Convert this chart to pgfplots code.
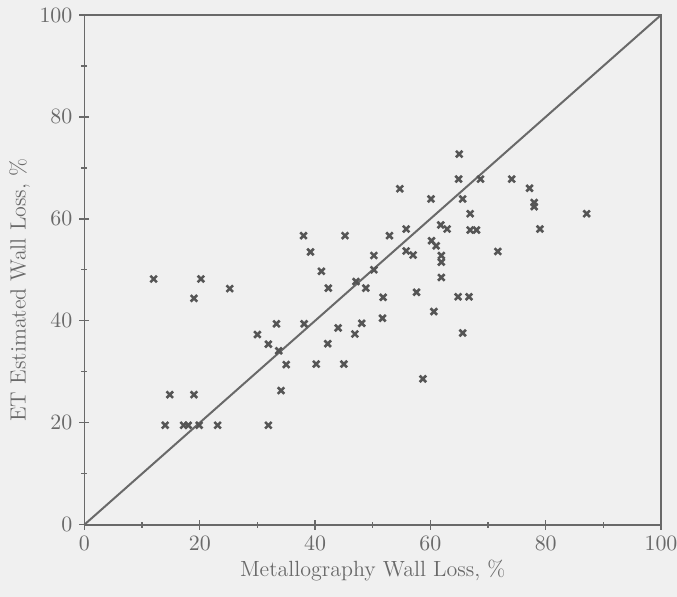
\documentclass[border=0pt]{standalone}
\usepackage{pgfplots}
\pgfplotsset{compat=1.18}
\usetikzlibrary{backgrounds}
\definecolor{bgc}{RGB}{240,240,240}
\definecolor{axc}{RGB}{105,105,105}
\definecolor{mkc}{RGB}{85,85,85}
\begin{document}
\begin{tikzpicture}
\begin{axis}[
  at={(0,0)}, anchor=south west,
  scale only axis, width=288.5pt, height=255pt,
  xmin=0, xmax=100, ymin=0, ymax=100,
  xtick={0,20,40,60,80,100}, ytick={0,20,40,60,80,100},
  minor xtick={10,30,50,70,90}, minor ytick={10,30,50,70,90},
  xtick pos=bottom, ytick pos=left,
  tick align=center,
  major tick length=5pt, minor tick length=3pt,
  axis line style={axc, line width=0.9pt},
  every tick/.style={axc, line width=0.7pt},
  ticklabel style={text=axc, font=\fontsize{10.5}{12}\selectfont},
  xlabel={Metallography Wall Loss, \%},
  ylabel={ET Estimated Wall Loss, \%},
  label style={text=axc, font=\fontsize{11}{13}\selectfont},
  xlabel style={yshift=2pt},
  ylabel style={at={(ticklabel cs:0.46)}, anchor=near ticklabel, yshift=-2pt},
  clip=false,
]
\addplot[axc, line width=1pt] coordinates {(0,0) (100,100)};
\addplot[only marks, mark=x, mark size=2.3pt, mkc, mark options={line width=1.3pt}] coordinates {
(12.0,48.2) (20.2,48.2) (19.0,44.4) (25.2,46.3) (30.0,37.3) (31.9,35.4)
(33.3,39.4) (33.7,34.1) (35.0,31.4) (34.1,26.3) (14.8,25.5) (19.0,25.5)
(14.0,19.5) (17.2,19.5) (18.0,19.5) (19.9,19.5) (23.1,19.5) (31.9,19.5)
(38.0,56.7) (45.2,56.7) (52.9,56.7) (55.8,58.0) (61.8,58.8) (62.9,58.0)
(66.9,57.8) (68.0,57.8) (39.2,53.5) (50.2,52.8) (50.2,50.0) (55.8,53.7)
(57.0,52.9) (60.2,55.7) (61.0,54.7) (61.9,52.8) (61.9,51.5) (61.9,48.5)
(41.1,49.7) (42.3,46.4) (47.1,47.7) (48.8,46.4) (51.8,44.6) (57.6,45.6)
(64.8,44.7) (66.7,44.7) (60.6,41.8) (65.6,37.6) (38.1,39.4) (44.0,38.6)
(48.1,39.5) (46.9,37.4) (51.7,40.5) (42.2,35.5) (40.2,31.5) (45.0,31.5)
(58.7,28.6) (65.0,72.7) (64.9,67.8) (68.7,67.8) (74.1,67.8) (77.2,66.0)
(78.0,63.2) (78.0,62.4) (87.1,61.0) (60.1,63.9) (65.6,63.9) (66.9,61.0)
(79.0,58.0) (71.7,53.6) (54.7,65.9)
};
\end{axis}
\pgfresetboundingbox
\begin{scope}[on background layer]
\fill[bgc] (-42.25pt,-36pt) rectangle (296.5pt,262.5pt);
\end{scope}
\end{tikzpicture}
\end{document}
